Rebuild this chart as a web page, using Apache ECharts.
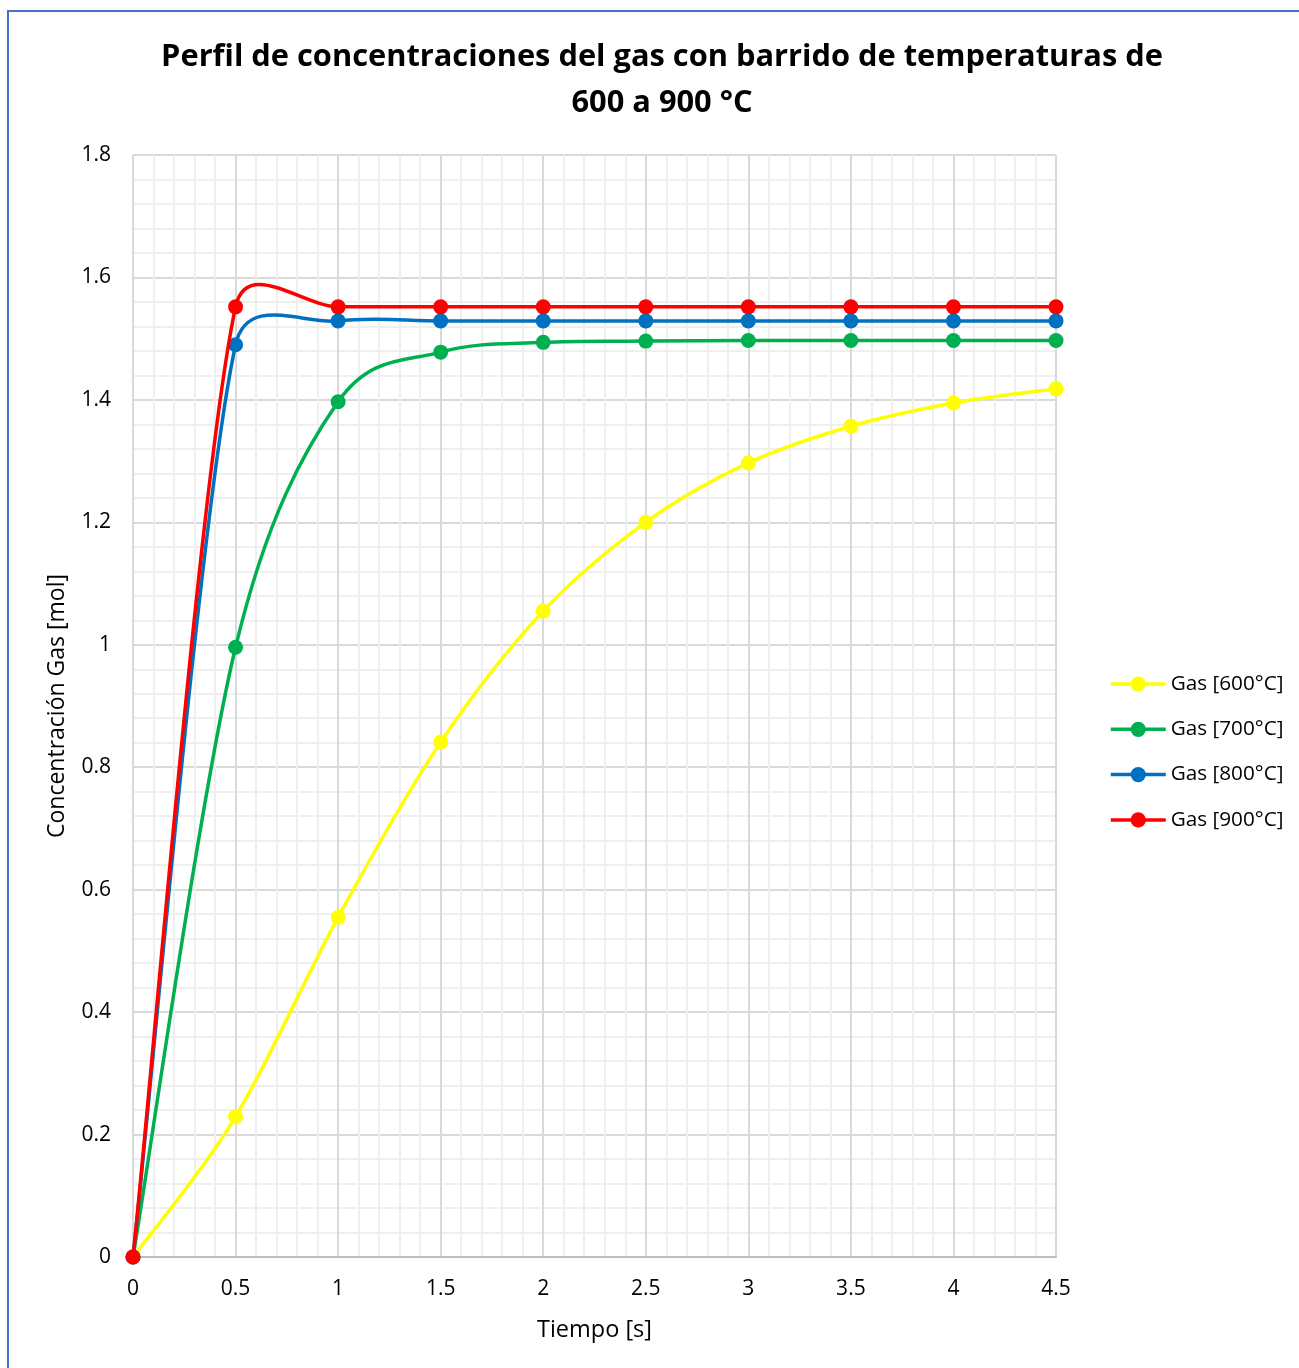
<!DOCTYPE html>
<html>
<head>
<meta charset="utf-8">
<script src="https://cdn.jsdelivr.net/npm/echarts@6/dist/echarts.min.js"></script>
<style>
html,body{margin:0;padding:0;background:#fff;overflow:hidden;}
#frame{position:absolute;left:7px;top:10px;width:1400px;height:1500px;border:2px solid #4472C4;box-sizing:border-box;}
#chart{position:absolute;left:0;top:0;width:1299px;height:1368px;}
</style>
</head>
<body>
<div id="frame"></div>
<div id="chart"></div>
<script>
const times = [0, 0.5, 1, 1.5, 2, 2.5, 3, 3.5, 4, 4.5];
const gas600 = [0, 0.229, 0.555, 0.841, 1.055, 1.200, 1.297, 1.357, 1.395, 1.418];
const gas700 = [0, 0.996, 1.397, 1.478, 1.494, 1.496, 1.497, 1.497, 1.497, 1.497];
const gas800 = [0, 1.490, 1.529, 1.529, 1.529, 1.529, 1.529, 1.529, 1.529, 1.529];
const gas900 = [0, 1.552, 1.552, 1.552, 1.552, 1.552, 1.552, 1.552, 1.552, 1.552];
const seriesNames = ['Gas [600°C]', 'Gas [700°C]', 'Gas [800°C]', 'Gas [900°C]'];
const colors = ['#FFFF00', '#00B050', '#0070C0', '#FF0000'];
const allData = [gas600, gas700, gas800, gas900];

const font = '"Open Sans", sans-serif';
const LW = 3.5;

// Excel-style smoothed line drawn through the axis scales (api.coord)
function smoothCurve(ys, color) {
  return function (params, api) {
    if (params.dataIndex !== 0) return null;
    const P = times.map((t, i) => api.coord([t, ys[i]]));
    const n = P.length;
    const children = [];
    for (let i = 0; i < n - 1; i++) {
      const p0 = P[Math.max(i - 1, 0)], p1 = P[i], p2 = P[i + 1], p3 = P[Math.min(i + 2, n - 1)];
      const segLen = Math.hypot(p2[0] - p1[0], p2[1] - p1[1]);
      const cap = v => {
        const l = Math.hypot(v[0], v[1]);
        const m = segLen * 0.5;
        return l > m ? [v[0] * m / l, v[1] * m / l] : v;
      };
      const a = cap([(p2[0] - p0[0]) / 6, (p2[1] - p0[1]) / 6]);
      const b = cap([(p3[0] - p1[0]) / 6, (p3[1] - p1[1]) / 6]);
      children.push({
        type: 'bezierCurve',
        shape: {x1: p1[0], y1: p1[1], x2: p2[0], y2: p2[1],
                cpx1: p1[0] + a[0], cpy1: p1[1] + a[1],
                cpx2: p2[0] - b[0], cpy2: p2[1] - b[1]},
        style: {stroke: color, lineWidth: LW, fill: null, lineCap: 'round'}
      });
    }
    return {type: 'group', children: children};
  };
}

const series = [];
allData.forEach((d, i) => {
  series.push({
    name: 'curve' + i, type: 'custom', coordinateSystem: 'cartesian2d',
    data: times.map((t, j) => [t, d[j]]), encode: {x: 0, y: 1},
    renderItem: smoothCurve(d, colors[i]), silent: true, z: 2 + i * 2
  });
  series.push({
    name: seriesNames[i], type: 'line',
    data: times.map((t, j) => [t, d[j]]),
    symbol: 'circle', symbolSize: 15, showSymbol: true,
    lineStyle: {color: colors[i], width: LW, opacity: 0},
    itemStyle: {color: colors[i]},
    emphasis: {disabled: true}, silent: true,
    z: 3 + i * 2
  });
});

const chart = echarts.init(document.getElementById('chart'));
chart.setOption({
  animation: false,
  title: {
    text: 'Perfil de concentraciones del gas con barrido de temperaturas de\n600 a 900 °C',
    left: 657, textAlign: 'center', top: 29,
    textStyle: {fontFamily: font, fontSize: 30.8, fontWeight: 'bold', color: '#000', lineHeight: 46}
  },
  legend: {
    orient: 'vertical', left: 1104, top: 668, itemGap: 23.3,
    itemWidth: 55, itemHeight: 19,
    textStyle: {fontFamily: font, fontSize: 20.7, color: '#000', lineHeight: 22},
    data: seriesNames.map((nm, i) => ({
      name: nm,
      lineStyle: {color: colors[i], width: LW, opacity: 1},
      itemStyle: {color: colors[i]}
    }))
  },
  grid: {left: 133, right: 243, top: 155, bottom: 111, containLabel: false},
  xAxis: {
    type: 'value', min: 0, max: 4.5, interval: 0.5,
    name: 'Tiempo [s]', nameLocation: 'middle', nameGap: 61,
    nameTextStyle: {fontFamily: font, fontSize: 23.5, color: '#000'},
    axisLine: {show: true, lineStyle: {color: '#bfbfbf', width: 2}},
    axisTick: {show: false},
    axisLabel: {fontFamily: font, fontSize: 21, color: '#000', margin: 22},
    splitLine: {show: true, lineStyle: {color: '#d9d9d9', width: 2}},
    minorTick: {show: false, splitNumber: 5},
    minorSplitLine: {show: true, lineStyle: {color: '#efefef', width: 2}}
  },
  yAxis: {
    type: 'value', min: 0, max: 1.8, interval: 0.2,
    name: 'Concentración Gas [mol]', nameLocation: 'middle', nameGap: 64,
    nameTextStyle: {fontFamily: font, fontSize: 23, color: '#000'},
    axisLine: {show: false},
    axisTick: {show: false},
    axisLabel: {fontFamily: font, fontSize: 21, color: '#000', margin: 22,
      formatter: v => String(Math.round(v * 10) / 10)},
    splitLine: {show: true, lineStyle: {color: '#d9d9d9', width: 2}},
    minorTick: {show: false, splitNumber: 5},
    minorSplitLine: {show: true, lineStyle: {color: '#efefef', width: 2}}
  },
  series: series
});
</script>
</body>
</html>
